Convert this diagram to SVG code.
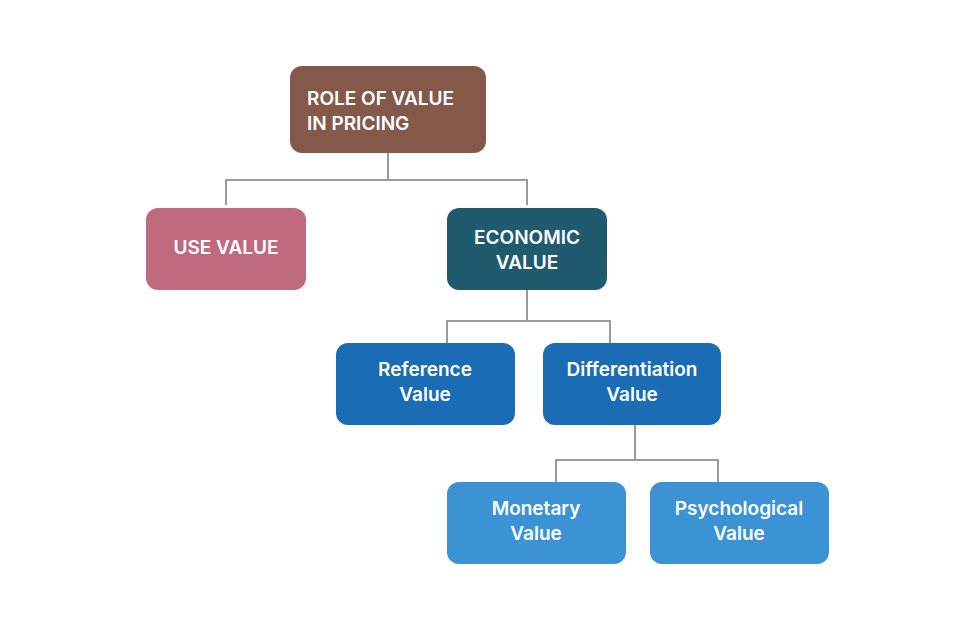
<svg xmlns="http://www.w3.org/2000/svg" width="975" height="631" viewBox="0 0 975 631">
<style>
text{font-family:Inter,"Noto Sans","Liberation Sans",sans-serif;font-weight:600;font-size:19px;fill:#fff;text-anchor:middle}
.c{fill:none;stroke:#9a9a9a;stroke-width:2}
</style>
<rect width="975" height="631" fill="#fff"/>
<g id="connectors" class="c">
<path class="c" d="M388 153V180M226 205V180H527V205"/>
<path class="c" d="M527 290V321M447 343V321H610V343"/>
<path class="c" d="M635 425V460M556 482V460H718V482"/>
</g>
<g id="root"><rect x="290" y="66" width="196" height="87" rx="12" fill="#85594a"/>
<text x="307" y="105" style="text-anchor:start">ROLE OF VALUE</text><text x="307" y="130" style="text-anchor:start">IN PRICING</text></g>
<g id="use"><rect x="146" y="208" width="160" height="82" rx="12" fill="#bf6a7e"/><text x="226" y="254">USE VALUE</text></g>
<g id="economic"><rect x="447" y="208" width="160" height="82" rx="12" fill="#1f5a6e"/><text x="527" y="244">ECONOMIC</text><text x="527" y="269">VALUE</text></g>
<g id="reference"><rect x="336" y="343" width="179" height="82" rx="12" fill="#1a6cb5"/><text x="425" y="376">Reference</text><text x="425" y="401">Value</text></g>
<g id="differentiation"><rect x="543" y="343" width="178" height="82" rx="12" fill="#1a6cb5"/><text x="632" y="376">Differentiation</text><text x="632" y="401">Value</text></g>
<g id="monetary"><rect x="447" y="482" width="179" height="82" rx="12" fill="#3b93d6"/><text x="536" y="515">Monetary</text><text x="536" y="540">Value</text></g>
<g id="psychological"><rect x="650" y="482" width="179" height="82" rx="12" fill="#3b93d6"/><text x="739" y="515">Psychological</text><text x="739" y="540">Value</text></g>
</svg>
